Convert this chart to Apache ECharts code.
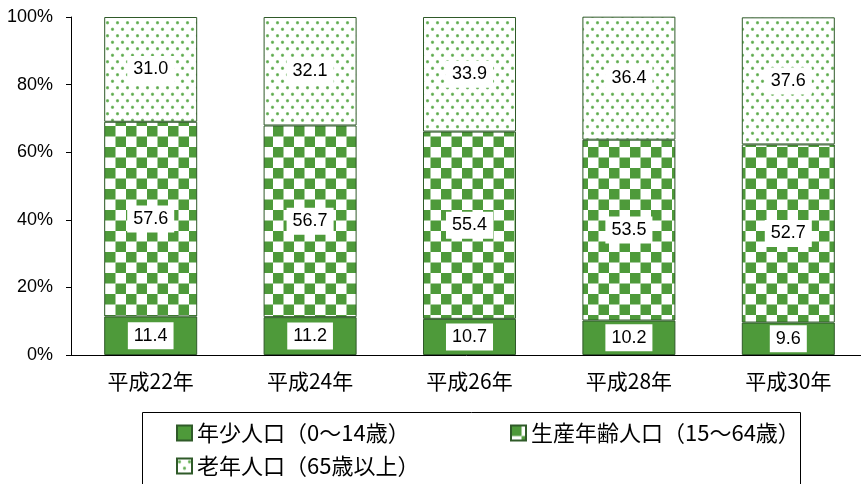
<!DOCTYPE html>
<html>
<head>
<meta charset="utf-8">
<script src="https://cdn.jsdelivr.net/npm/echarts@6/dist/echarts.min.js"></script>
<style>
  html, body { margin: 0; padding: 0; background: #fff; }
  #c { width: 861px; height: 484px; }
</style>
</head>
<body>
<div id="c"></div>
<script>
// Population composition by age group (%)
const categories = ['平成22年', '平成24年', '平成26年', '平成28年', '平成30年'];
const youth   = [11.4, 11.2, 10.7, 10.2, 9.6];
const working = [57.6, 56.7, 55.4, 53.5, 52.7];
const elderly = [31.0, 32.1, 33.9, 36.4, 37.6];
const seriesNames = ['年少人口（0～14歳）', '生産年齢人口（15～64歳）', '老年人口（65歳以上）'];
const yTicks = { min: 0, max: 100, interval: 20 };

const GREEN = '#4e9a3a';
const EDGE = '#2f5a29';

// Checkerboard fill for the working-age segment
function checkerPattern() {
  const c = document.createElement('canvas');
  c.width = 21; c.height = 21;
  const g = c.getContext('2d');
  g.fillStyle = '#fff';
  g.fillRect(0, 0, 21, 21);
  g.fillStyle = GREEN;
  g.fillRect(0, 0, 10.5, 10.5);
  g.fillRect(10.5, 10.5, 10.5, 10.5);
  return { image: c, repeat: 'repeat' };
}

// Staggered dot fill for the elderly segment
function dotPattern() {
  const c = document.createElement('canvas');
  c.width = 10; c.height = 13;
  const g = c.getContext('2d');
  g.fillStyle = '#fff';
  g.fillRect(0, 0, 10, 13);
  const pts = [[2.5, 3.25], [7.5, 9.75]];
  pts.forEach(([x, y]) => {
    const rg = g.createRadialGradient(x, y, 0, x, y, 2.2);
    rg.addColorStop(0, 'rgba(78,160,60,1)');
    rg.addColorStop(0.55, 'rgba(100,175,85,0.8)');
    rg.addColorStop(1, 'rgba(140,200,125,0)');
    g.fillStyle = rg;
    g.beginPath();
    g.arc(x, y, 2.2, 0, Math.PI * 2);
    g.fill();
  });
  return { image: c, repeat: 'repeat' };
}

const fills = [GREEN, checkerPattern(), dotPattern()];
const values = [youth, working, elderly];

const valueLabel = {
  show: true,
  position: 'inside',
  formatter: p => p.value.toFixed(1),
  backgroundColor: '#fff',
  padding: [5, 6, 4, 6],
  color: '#000',
  fontSize: 18,
  fontFamily: 'Liberation Sans, Arial, sans-serif'
};

const series = seriesNames.map((name, i) => ({
  name: name,
  type: 'bar',
  stack: 'total',
  barWidth: 93,
  data: values[i],
  itemStyle: { color: fills[i], borderColor: EDGE, borderWidth: 1 },
  label: valueLabel,
  emphasis: { disabled: true }
}));

const legendText = {
  fontSize: 22,
  color: '#000',
  fontFamily: 'Noto Sans CJK JP, sans-serif'
};
const legendPos = [[176, 422], [510, 422], [176, 455]];
const legends = seriesNames.map((name, i) => ({
  data: [name],
  left: legendPos[i][0],
  top: legendPos[i][1],
  padding: 0,
  itemWidth: 15,
  itemHeight: 15,
  icon: 'rect',
  textStyle: legendText,
  selectedMode: false
}));

const chart = echarts.init(document.getElementById('c'), null, { renderer: 'canvas' });
chart.setOption({
  animation: false,
  backgroundColor: '#fff',
  grid: { left: 71, width: 797, top: 17, bottom: 129, containLabel: false, outerBoundsMode: 'none' },
  xAxis: {
    type: 'category',
    data: categories,
    axisTick: { show: false },
    axisLine: { lineStyle: { color: '#000', width: 1 } },
    axisLabel: {
      color: '#000',
      fontSize: 21,
      margin: 16,
      fontFamily: 'Noto Sans CJK JP, sans-serif'
    }
  },
  yAxis: {
    type: 'value',
    min: yTicks.min,
    max: yTicks.max,
    interval: yTicks.interval,
    splitLine: { show: false },
    axisLine: { show: true, lineStyle: { color: '#000', width: 1 } },
    axisTick: { show: true, length: 5, lineStyle: { color: '#000' } },
    axisLabel: {
      formatter: '{value}%',
      color: '#000',
      fontSize: 18,
      margin: 18,
      fontFamily: 'Liberation Sans, Arial, sans-serif'
    }
  },
  legend: legends,
  graphic: [{
    type: 'rect',
    silent: true,
    shape: { x: 142.5, y: 412.5, width: 658, height: 90 },
    style: { fill: 'none', stroke: '#000', lineWidth: 1 }
  }],
  series: series
});
</script>
</body>
</html>
